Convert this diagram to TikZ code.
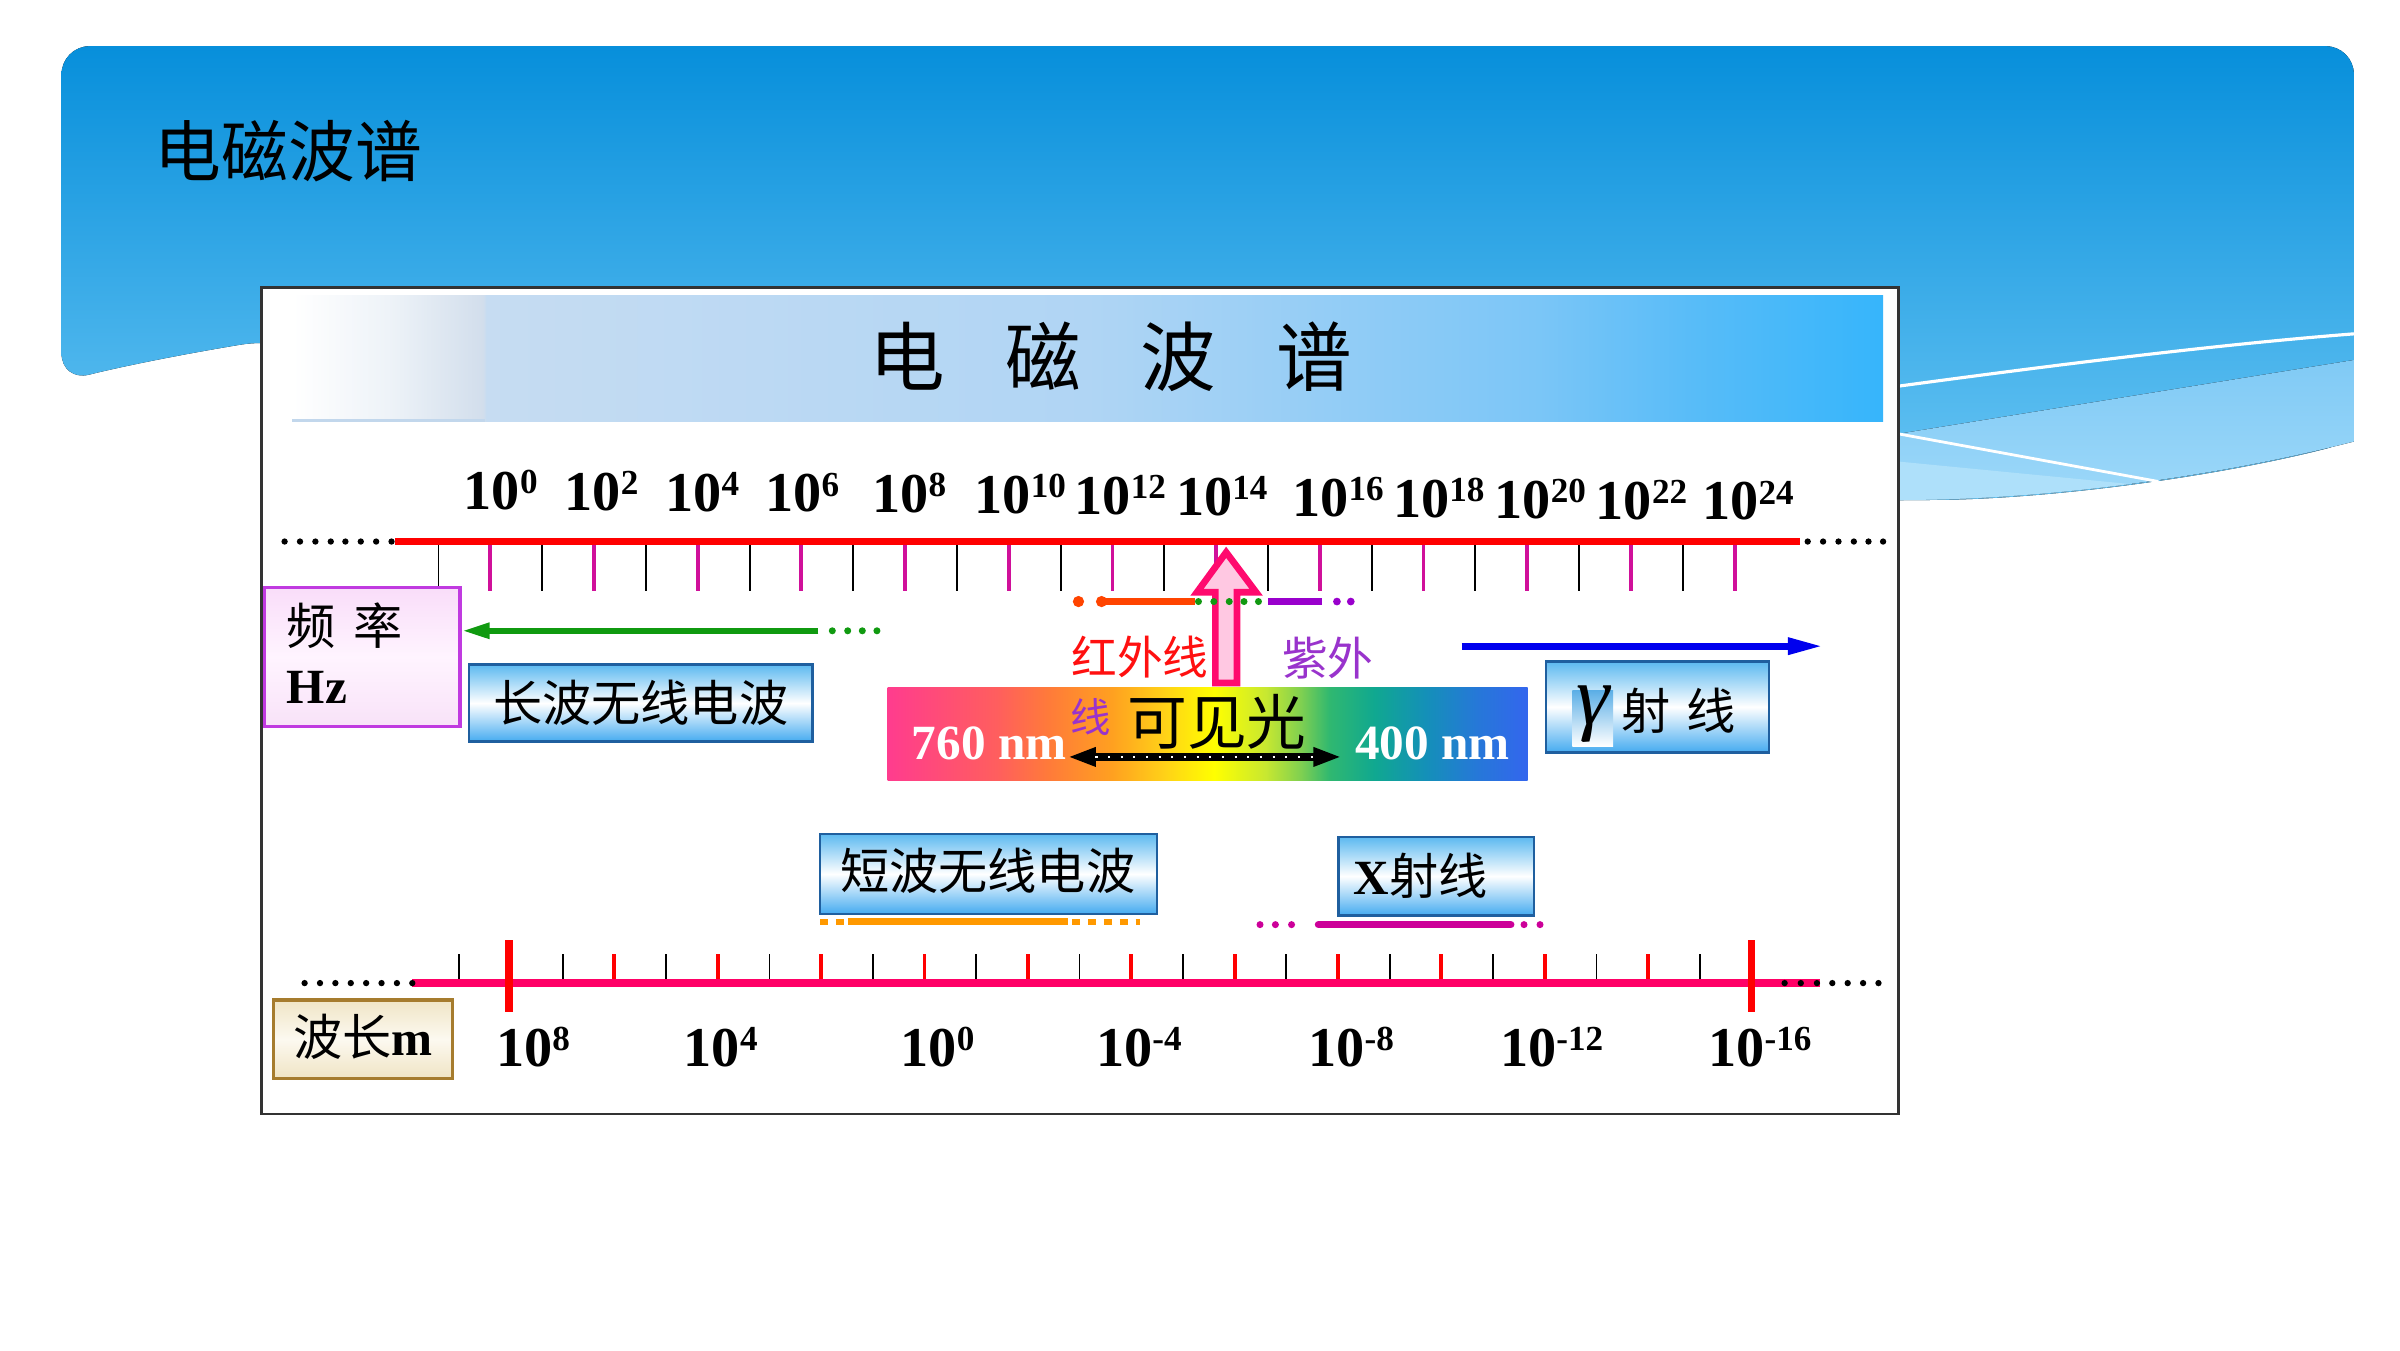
\documentclass[tikz,border=0pt]{standalone}
\usepackage{fontspec}
\setmainfont{Liberation Serif}
\newfontfamily\cjk{Noto Sans CJK SC}
\usetikzlibrary{arrows.meta}

% slide background
\definecolor{bgtop}{HTML}{078FDB}
\definecolor{bgbot}{HTML}{6AC6F4}
\definecolor{waveA}{HTML}{80CAF5}
\definecolor{waveB}{HTML}{9DD8F9}
\definecolor{waveC}{HTML}{AEE0FA}
% header bar
\definecolor{hbW}{HTML}{EEF3F8}
\definecolor{hbA}{HTML}{D2DEEC}
\definecolor{hbB}{HTML}{C6DCF2}
\definecolor{hbC}{HTML}{B0D5F4}
\definecolor{hbD}{HTML}{7CC6F7}
\definecolor{hbE}{HTML}{58BCF8}
\definecolor{hbF}{HTML}{36B5FB}
\definecolor{hbline}{HTML}{C2D7EC}
% axes and bands
\definecolor{redaxis}{HTML}{FF0000}
\definecolor{pinkaxis}{HTML}{FF0066}
\definecolor{magtick}{HTML}{D0109A}
\definecolor{lwgreen}{HTML}{109A10}
\definecolor{irorange}{HTML}{FF4400}
\definecolor{irgreen}{HTML}{119911}
\definecolor{uvpurple}{HTML}{9900CC}
\definecolor{gmblue}{HTML}{0000EE}
\definecolor{swyellow}{HTML}{FF9900}
\definecolor{xmag}{HTML}{CC0099}
\definecolor{uparrow}{HTML}{FF0A6E}
\definecolor{uparrowfill}{HTML}{FFC8E2}
% boxes
\definecolor{boxtop}{HTML}{5CB9F0}
\definecolor{boxbot}{HTML}{45ABF0}
\definecolor{boxline}{HTML}{1F5F9F}
\definecolor{hzline}{HTML}{C03AE0}
\definecolor{hztop}{HTML}{F9DDF9}
\definecolor{hzmid}{HTML}{FFF4FF}
\definecolor{hzbot}{HTML}{F8E2F8}
\definecolor{wlline}{HTML}{A67C2E}
\definecolor{wltop}{HTML}{F0E5C6}
\definecolor{wlmid}{HTML}{FCF9F0}
\definecolor{wlbot}{HTML}{F0E4C4}
\definecolor{irtext}{HTML}{FF1010}
\definecolor{uvtext}{HTML}{9933CC}
\definecolor{gmhl}{HTML}{5AAEE6}
% visible spectrum
\definecolor{sp1}{HTML}{FF3C8E}
\definecolor{sp2}{HTML}{FF5E5E}
\definecolor{sp3}{HTML}{FF7A3A}
\definecolor{sp4}{HTML}{FFA020}
\definecolor{sp5}{HTML}{FFD018}
\definecolor{sp6}{HTML}{FFFF00}
\definecolor{sp7}{HTML}{C8E830}
\definecolor{sp8}{HTML}{80D050}
\definecolor{sp9}{HTML}{30B870}
\definecolor{sp10}{HTML}{10A890}
\definecolor{sp11}{HTML}{1490B8}
\definecolor{sp12}{HTML}{2678D8}
\definecolor{sp13}{HTML}{3366EE}

\pgfdeclarehorizontalshading{headbar}{100bp}{color(0bp)=(white); color(25bp)=(white);
  color(28bp)=(hbW); color(31bp)=(hbA); color(31.1bp)=(hbB); color(50bp)=(hbC);
  color(64bp)=(hbD); color(69bp)=(hbE); color(75bp)=(hbF); color(100bp)=(hbF)}
\pgfdeclarehorizontalshading{spectrum}{100bp}{color(0bp)=(sp1); color(25bp)=(sp1);
  color(33.5bp)=(sp2); color(37.5bp)=(sp3); color(42.5bp)=(sp4); color(46.5bp)=(sp5);
  color(50.5bp)=(sp6); color(54.5bp)=(sp7); color(57.25bp)=(sp8); color(59.5bp)=(sp9);
  color(63bp)=(sp10); color(67bp)=(sp11); color(71bp)=(sp12); color(75bp)=(sp13); color(100bp)=(sp13)}

\newcommand{\tenpow}[1]{10\raisebox{4.5pt}{\fontsize{10}{10}\selectfont #1}}

\begin{document}
\begin{tikzpicture}[x=0.015385cm, y=-0.015385cm,
        cjklab/.style={font=\cjk\fontsize{14}{14}\selectfont, inner sep=0pt},
        numlab/.style={font=\fontsize{16}{16}\selectfont\bfseries, inner sep=0pt, anchor=base west},
        radiobox/.style={draw=boxline, line width=0.7pt, top color=boxtop, bottom color=boxbot, middle color=white},
        fqtickb/.style={black, line width=0.55pt},
        fqtickm/.style={magtick, line width=1.1pt},
        wltickb/.style={black, line width=0.5pt},
        wltickr/.style={redaxis, line width=1.1pt},
        bigmark/.style={redaxis, line width=2.2pt},
    ]
    \useasboundingbox (0,0) rectangle (1560,877.5);

    % slide background
    \fill[top color=bgtop, bottom color=bgbot, rounded corners=8pt]
        (40,248) .. controls (80,238) and (120,230) .. (175,221) -- (700,330) -- (1234,325)
        .. controls (1330,325) and (1440,310) .. (1530,287) -- (1530,30) -- (40,30) -- cycle;
    \fill[top color=waveA, bottom color=waveB] (1234,282) -- (1530,234) -- (1530,287)
        .. controls (1440,310) and (1330,325) .. (1234,325) -- cycle;
    \fill[waveC] (1234,300) -- (1384.25,314.6) .. controls (1333.5,321.25) and (1282,325) .. (1234,325) -- cycle;
    \draw[white, line width=0.8pt] (1234,282) -- (1403,313);
    \draw[white, line width=0.9pt] (1234,251) .. controls (1330,238) and (1440,224) .. (1530,217);

    \node[font=\cjk\fontsize{19}{19}\selectfont, inner sep=0pt] (slidetitle) at (187.5,98) {电磁波谱};

    % frame and header
    \draw[fill=white, draw=black!80, line width=0.7pt] (170,187) rectangle (1234,724);
    \shade[shading=headbar] (190,192) rectangle (1224,274);
    \draw[hbline, line width=0.8pt] (190,273.5) -- (315,273.5);
    \node[font=\cjk\fontsize{21.5}{21.5}\selectfont, inner sep=0pt] (headtitle) at (722,232)
        {电\hspace{17pt}磁\hspace{17pt}波\hspace{17pt}谱};

    % frequency axis
    \foreach \k in {0,2,...,24}
        \draw[fqtickb] ({285+33.7*\k},352) -- ({285+33.7*\k},384);
    \foreach \k in {1,3,...,25}
        \draw[fqtickm] ({285+33.7*\k},352) -- ({285+33.7*\k},384);
    \coordinate (fqleft) at (257,352);
    \coordinate (fqright) at (1170,352);
    \draw[redaxis, line width=2pt] (fqleft) -- (fqright);
    \foreach \x in {185,195,205,215,224.5,234.5,244.5,254.5}
        \fill (\x,352) circle (0.9pt);
    \foreach \x in {1175,1185,1195,1205,1214.5,1224}
        \fill (\x,352) circle (0.9pt);
    \foreach \e/\lx [count=\n from 0] in {0/301,2/366.5,4/432,6/497,8/566.6,10/633,12/698,14/764,16/839.5,18/905,20/971,22/1036.8,24/1106}
        \node[numlab] (fq\e) at (\lx,{331+0.58*\n}) {\tenpow{\e}};

    % frequency box
    \shade[top color=hztop, bottom color=hzbot, middle color=hzmid] (172,382) rectangle (299,472);
    \draw[hzline, line width=0.9pt] (172,382) rectangle (299,472);
    \node[cjklab, anchor=west] (hzname) at (186,407) {频\hspace{5pt}率};
    \node[font=\fontsize{14}{14}\selectfont\bfseries, inner sep=0pt, anchor=base west] (hzunit) at (186,457) {Hz};

    % long wave radio
    \coordinate (lwend) at (532,410);
    \coordinate (lwtip) at (300,410);
    \draw[lwgreen, line width=1.8pt, -{Triangle[length=8pt,width=4.2pt]}] (lwend) -- (lwtip);
    \foreach \x in {541,551,560.5,570}
        \fill[lwgreen] (\x,410) circle (1pt);
    \shade[radiobox] (305,432) rectangle (528,482);
    \node[cjklab] (longwave) at (416.5,457) {长波无线电波};

    % infrared / ultraviolet band
    \draw[uparrow, fill=uparrowfill, line width=1.9pt, line join=miter]
        (797,359) -- (816.5,385) -- (804,385) -- (804,444) -- (790,444) -- (790,385) -- (778,385) -- cycle;
    \fill[irorange] (701,391) circle (1.6pt);
    \fill[irorange] (716,391) circle (1.6pt);
    \draw[irorange, line width=1.9pt] (716,391) -- (777,391);
    \foreach \x in {779,789,799,808.6,818}
        \fill[irgreen] (\x,391) circle (1pt);
    \draw[uvpurple, line width=1.9pt] (824.5,391) -- (859,391);
    \foreach \x in {869,878}
        \fill[uvpurple] (\x,391) circle (1.1pt);
    \node[font=\cjk\fontsize{13}{13}\selectfont, text=irtext, inner sep=0pt] (irname) at (741,427) {红外线};
    \node[font=\cjk\fontsize{13}{13}\selectfont, text=uvtext, inner sep=0pt] (uvname) at (863,428) {紫外};

    % visible light
    \shade[shading=spectrum] (577,447) rectangle (993,507);
    \node[font=\fontsize{14}{14}\selectfont\bfseries, text=white, inner sep=0pt] (redend) at (643,483) {760 nm};
    \node[font=\fontsize{14}{14}\selectfont\bfseries, text=white, inner sep=0pt] (violetend) at (931,483) {400 nm};
    \node[font=\cjk\fontsize{11.5}{11.5}\selectfont, text=uvtext, inner sep=0pt] (uvtail) at (709,466) {线};
    \node[font=\cjk\fontsize{17}{17}\selectfont, inner sep=0pt] (visible) at (791,469) {可见光};
    \coordinate (visL) at (694,492);
    \coordinate (visR) at (872,492);
    \draw[black, line width=2.2pt, {Triangle[length=8pt,width=5pt]}-{Triangle[length=8pt,width=5pt]}] (visL) -- (visR);
    \draw[white, line width=0.7pt, dash pattern=on 0.6pt off 3pt] (712,492) -- (854,492);

    % gamma rays
    \coordinate (gmstart) at (950,420);
    \coordinate (gmend) at (1185,420);
    \draw[gmblue, line width=1.9pt, -{Triangle[length=10pt,width=4.5pt]}] (gmstart) -- (gmend);
    \shade[radiobox] (1005,430) rectangle (1150,489);
    \shade[top color=gmhl, bottom color=white] (1022,448.5) rectangle (1048.5,485);
    \node[font=\fontsize{24}{24}\selectfont\itshape, inner sep=0pt] (gmsym) at (1035.6,464) {γ};
    \node[cjklab] (gmshe) at (1070,462) {射};
    \node[cjklab] (gmxian) at (1112.5,462) {线};

    % short wave radio
    \shade[radiobox] (533,542) rectangle (752,594);
    \node[cjklab] (shortwave) at (642,566) {短波无线电波};
    \draw[swyellow, line width=1.7pt, dash pattern=on 2.2pt off 2.3pt] (533,599) -- (549,599);
    \draw[swyellow, line width=2.2pt] (551,599) -- (694,599);
    \draw[swyellow, line width=1.7pt, dash pattern=on 2.2pt off 2.3pt] (697,599) -- (741,599);

    % X rays
    \shade[radiobox] (870,544) rectangle (997,595);
    \node[font=\fontsize{14}{14}\selectfont, inner sep=0pt] (xray) at (923.5,569) {\textbf{X}{\cjk 射线}};
    \foreach \x in {819,829,839.5}
        \fill[xmag] (\x,601) circle (1pt);
    \draw[xmag, line width=2.1pt, line cap=round] (857,601) -- (982,601);
    \foreach \x in {990.6,1001}
        \fill[xmag] (\x,601) circle (1pt);

    % wavelength axis
    \foreach \k in {0,2,...,24}
        \draw[wltickb] ({298.5+33.6*\k},639) -- ({298.5+33.6*\k},620);
    \foreach \k in {1,3,...,25}
        \draw[wltickr] ({298.5+33.6*\k},639) -- ({298.5+33.6*\k},620);
    \coordinate (wlleft) at (268,639);
    \coordinate (wlright) at (1183,639);
    \draw[pinkaxis, line width=2.1pt] (wlleft) -- (wlright);
    \draw[bigmark] (331,611) -- (331,658);
    \draw[bigmark] (1138.5,611) -- (1138.5,658);
    \foreach \x in {198,208,218,228,238,248,258,268}
        \fill (\x,639) circle (0.9pt);
    \foreach \x in {1160,1170.5,1181,1191,1201,1211,1221}
        \fill (\x,639) circle (0.9pt);
    \foreach \e/\lx [count=\n] in {8/322,4/444,0/585,-4/712,-8/850,-12/974.6,-16/1110}
        \node[numlab] (wl\n) at (\lx,693) {\tenpow{\e}};

    % wavelength box
    \shade[top color=wltop, bottom color=wlbot, middle color=wlmid] (178,650) rectangle (294,701);
    \draw[wlline, line width=0.9pt] (178,650) rectangle (294,701);
    \node[font=\fontsize{14}{14}\selectfont, inner sep=0pt] (wlname) at (236,674) {{\cjk 波长}\textbf{m}};
\end{tikzpicture}
\end{document}
